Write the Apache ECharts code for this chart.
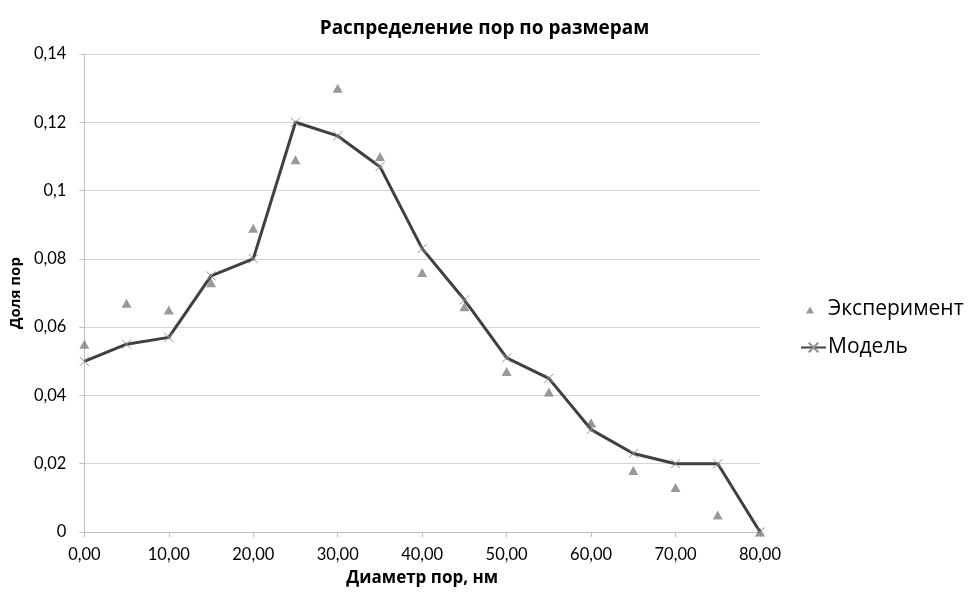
<!DOCTYPE html>
<html><head><meta charset="utf-8">
<script src="https://cdn.jsdelivr.net/npm/echarts@6/dist/echarts.min.js"></script>
<style>html,body{margin:0;padding:0;background:#fff}#c{width:969px;height:592px}</style>
</head><body><div id="c"></div>
<script>
var diameters = [0,5,10,15,20,25,30,35,40,45,50,55,60,65,70,75,80];
var experiment = [0.055,0.067,0.065,0.073,0.089,0.109,0.130,0.110,0.076,0.066,0.047,0.041,0.032,0.018,0.013,0.005,0.000];
var model = [0.050,0.055,0.057,0.075,0.080,0.120,0.116,0.107,0.083,0.068,0.051,0.045,0.030,0.023,0.020,0.020,0.000];
var titleText = 'Распределение пор по размерам';
var xName = 'Диаметр пор, нм';
var yName = 'Доля пор';
var seriesNames = ['Эксперимент','Модель'];

function pairs(xs, ys){ return xs.map(function(x,i){ return [x, ys[i]]; }); }
var chart = echarts.init(document.getElementById('c'));
var crossPath = 'path://M0,0L10,10M10,0L0,10';
var legendTri = 'path://M0,0M25,12M9,3L13,10L5,10Z';
chart.setOption({
  backgroundColor:'#fff',
  animation:false,
  title:{text:titleText,left:'center',top:14,textStyle:{fontFamily:'Open Sans',fontWeight:'bold',fontSize:19,color:'#000'}},
  legend:{orient:'vertical',left:795,top:294,itemGap:17,itemWidth:25,itemHeight:12,
    textStyle:{fontFamily:'Open Sans',fontSize:21,color:'#000',padding:[0,0,0,-3]},
    data:[{name:seriesNames[0],icon:legendTri,itemStyle:{color:'#808080'}},{name:seriesNames[1]}]},
  grid:{left:83,right:209,top:54,bottom:59,containLabel:false},
  xAxis:{type:'value',min:0,max:80,interval:10,
    name:xName,nameLocation:'middle',nameGap:38,
    nameTextStyle:{fontFamily:'Open Sans',fontWeight:'bold',fontSize:17,color:'#000'},
    axisLine:{show:true,lineStyle:{color:'#bfbfbf',width:1}},
    axisTick:{show:true,length:5,lineStyle:{color:'#bfbfbf'}},
    splitLine:{show:false},
    axisLabel:{fontFamily:'Lato',fontSize:16.5,color:'#000',margin:14,formatter:function(v){return v.toFixed(2).replace('.',',');}}},
  yAxis:{type:'value',min:0,max:0.14,interval:0.02,
    name:yName,nameLocation:'middle',nameGap:58,nameRotate:90,
    nameTextStyle:{fontFamily:'Open Sans',fontWeight:'bold',fontSize:15,color:'#000'},
    axisLine:{show:true,lineStyle:{color:'#bfbfbf',width:1}},
    axisTick:{show:true,length:5,lineStyle:{color:'#bfbfbf'}},
    splitLine:{show:true,lineStyle:{color:'#d4d4d4',width:1}},
    axisLabel:{fontFamily:'Lato',fontSize:16.5,color:'#000',margin:18,formatter:function(v){var s=String(Math.round(v*100)/100);return s.replace('.',',');}}},
  series:[
    {name:seriesNames[0],type:'scatter',data:pairs(diameters,experiment),symbol:'triangle',symbolSize:[10,9],
      itemStyle:{color:'#808080'},z:3},
    {name:seriesNames[1],type:'line',data:pairs(diameters,model),symbol:crossPath,symbolSize:9,showSymbol:true,
      lineStyle:{color:'#404040',width:3},
      itemStyle:{color:'#404040',borderColor:'#909090',borderWidth:1},z:4}
  ]
});
</script></body></html>
